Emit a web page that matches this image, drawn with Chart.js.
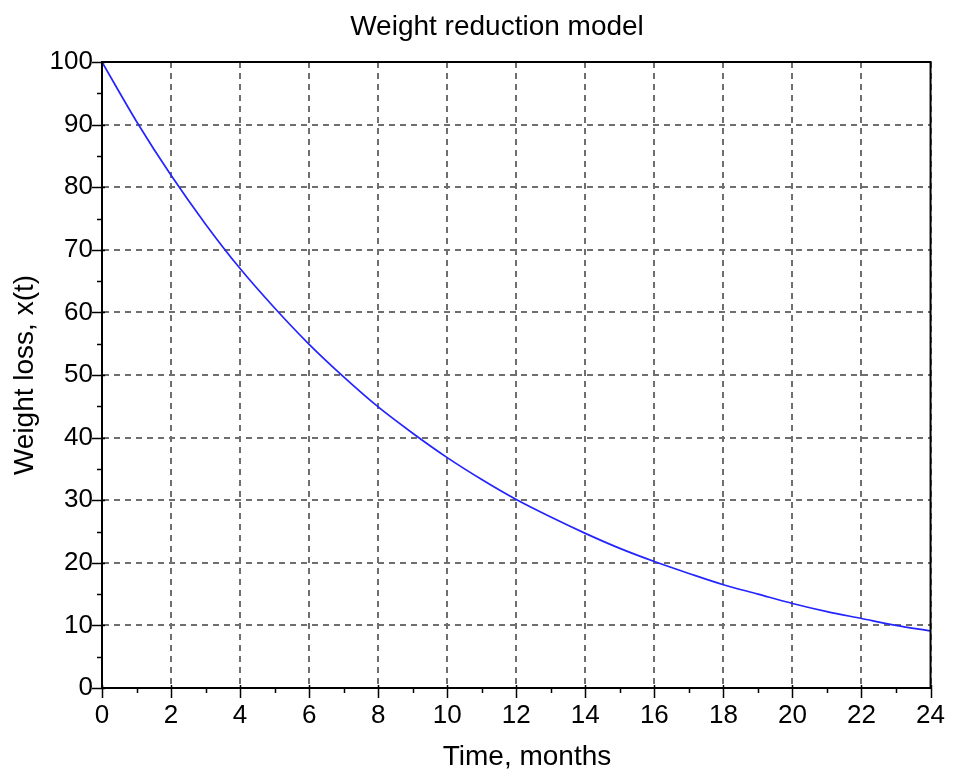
<!DOCTYPE html>
<html>
<head>
<meta charset="utf-8">
<script src="https://cdn.jsdelivr.net/npm/chart.js@4/dist/chart.umd.min.js"></script>
<style>
  html, body { margin: 0; padding: 0; background: #fff; }
  #wrap { width: 957px; height: 772px; }
</style>
</head>
<body>
<div id="wrap"><canvas id="weightChart" width="957" height="772"></canvas></div>
<script>
// values (month -> remaining weight)
const months = [0, 1, 2, 3, 4, 5, 6, 7, 8, 9, 10, 11, 12, 13, 14, 15, 16, 17, 18, 19, 20, 21, 22, 23, 24];
const weightLoss = [100, 90.5, 81.9, 74.1, 67.0, 60.7, 54.9, 49.7, 44.9, 40.7, 36.8, 33.3, 30.1,
  27.3, 24.7, 22.3, 20.2, 18.3, 16.5, 15.0, 13.5, 12.2, 11.1, 10.0, 9.1];

const chartTitle = 'Weight reduction model';
const xTitle = 'Time, months';
const yTitle = 'Weight loss, x(t)';

const FONT = '"Liberation Sans", Arial, sans-serif';

// frame, tick marks (major + minor) and titles
const framePlugin = {
  id: 'frame',
  afterDraw(chart) {
    const { ctx, chartArea: a, scales } = chart;
    const xs = scales.x, ys = scales.y;
    ctx.save();
    ctx.strokeStyle = '#000';
    ctx.lineWidth = 2;
    ctx.strokeRect(a.left, a.top, a.right - a.left, a.bottom - a.top);

    ctx.lineWidth = 1.5;
    ctx.beginPath();
    for (let v = xs.min; v <= xs.max; v += 1) {
      const px = Math.round(xs.getPixelForValue(v)) + 0.5;
      if (v % 2 === 0) {
        ctx.moveTo(px, a.bottom - 3);
        ctx.lineTo(px, a.bottom + 10);
      } else {
        ctx.moveTo(px, a.bottom);
        ctx.lineTo(px, a.bottom + 5);
      }
    }
    for (let v = ys.min; v <= ys.max; v += 5) {
      const py = Math.round(ys.getPixelForValue(v)) + 0.5;
      if (v % 10 === 0) {
        ctx.moveTo(a.left - 10, py);
        ctx.lineTo(a.left + 3, py);
      } else {
        ctx.moveTo(a.left - 5, py);
        ctx.lineTo(a.left, py);
      }
    }
    ctx.stroke();

    ctx.fillStyle = '#000';
    ctx.textAlign = 'center';
    ctx.textBaseline = 'alphabetic';
    ctx.font = '28px ' + FONT;
    ctx.fillText(chartTitle, 497, 35);
    ctx.fillText(xTitle, 527, 765);
    ctx.translate(33, (a.top + a.bottom) / 2);
    ctx.rotate(-Math.PI / 2);
    ctx.fillText(yTitle, 0, 0);
    ctx.restore();
  }
};

const gridStyle = {
  color: '#6f6f6f',
  lineWidth: 2,
  drawTicks: false
};
// in Chart.js v4 the grid line dash lives under "border"
const borderStyle = { display: true, color: '#000', width: 2, dash: [6, 5] };

new Chart(document.getElementById('weightChart'), {
  type: 'line',
  data: {
    datasets: [{
      label: 'x(t)',
      data: months.map((m, i) => ({ x: m, y: weightLoss[i] })),
      borderColor: '#2424ff',
      borderWidth: 1.7,
      pointRadius: 0,
      cubicInterpolationMode: 'monotone',
      fill: false
    }]
  },
  options: {
    responsive: false,
    animation: false,
    events: [],
    layout: { padding: { left: 0, top: 62, right: 25, bottom: 0 } },
    plugins: {
      legend: { display: false },
      title: { display: false },
      tooltip: { enabled: false }
    },
    scales: {
      x: {
        type: 'linear',
        min: 0,
        max: 24,
        grid: gridStyle,
        border: borderStyle,
        ticks: {
          stepSize: 2,
          padding: 12,
          color: '#000',
          maxRotation: 0,
          font: { family: FONT, size: 26 }
        },
        afterFit(scale) { scale.height = 84; }
      },
      y: {
        min: 0,
        max: 100,
        grid: gridStyle,
        border: borderStyle,
        ticks: {
          stepSize: 10,
          padding: 9,
          color: '#000',
          font: { family: FONT, size: 26 }
        },
        afterFit(scale) { scale.width = 102; }
      }
    }
  },
  plugins: [framePlugin]
});
</script>
</body>
</html>
